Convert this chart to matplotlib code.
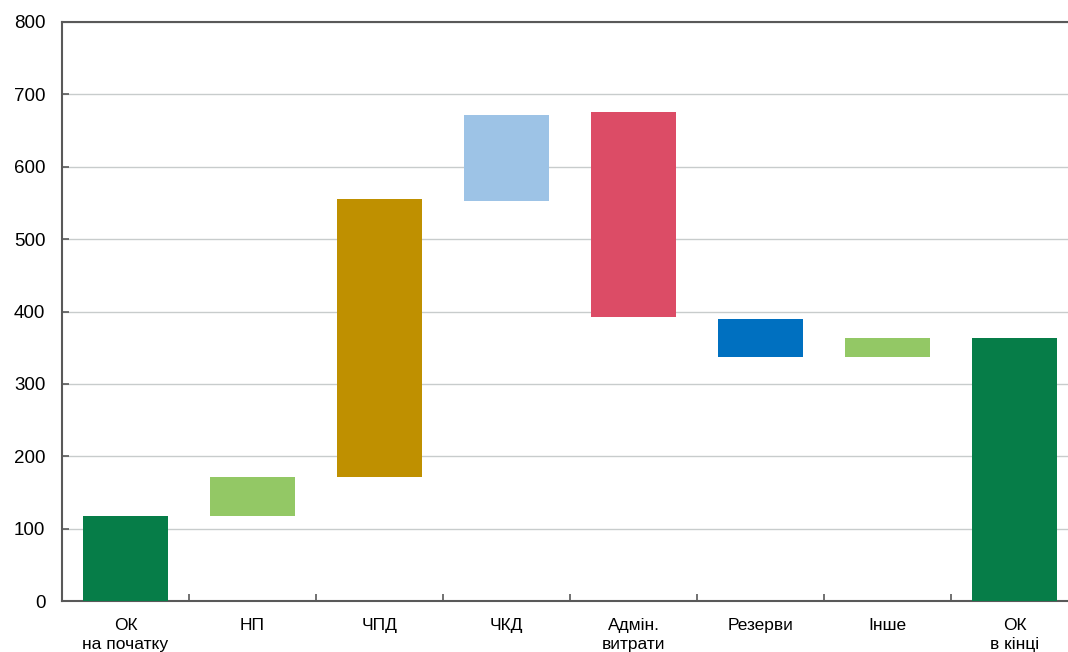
import matplotlib
matplotlib.use("Agg")
import matplotlib.pyplot as plt
from matplotlib.ticker import FixedLocator

categories = ["ОК\nна початку", "НП", "ЧПД", "ЧКД", "Адмін.\nвитрати", "Резерви", "Інше", "ОК\nв кінці"]
bottoms = [0, 118, 172, 553, 392, 337, 337, 0]
tops = [118, 172, 556, 672, 675, 390, 364, 364]
colors = ["#067D48", "#93C865", "#BF9000", "#9DC3E6", "#DC4C66", "#0070C0", "#93C865", "#067D48"]
yticks = [0, 100, 200, 300, 400, 500, 600, 700, 800]

plt.rcParams['font.family'] = ['Liberation Sans', 'DejaVu Sans']

fig = plt.figure(figsize=(10.68, 6.52), dpi=100)
ax = fig.add_axes([62/1068, 1 - 601/652, 1016/1068, 579/652])

x = list(range(len(categories)))
heights = [t - b for t, b in zip(tops, bottoms)]
ax.bar(x, heights, bottom=bottoms, width=0.67, color=colors, zorder=3)

ax.set_xlim(-0.5, len(categories) - 0.5)
ax.set_ylim(0, 800)
ax.set_yticks(yticks)
ax.yaxis.grid(True, color="#C8CCCC", linewidth=1, zorder=0)
ax.set_axisbelow(True)

ax.set_xticks(x)
ax.set_xticklabels(categories, fontsize=12.5, linespacing=1.4)
ax.tick_params(axis='x', which='major', length=0, pad=12)
ax.xaxis.set_minor_locator(FixedLocator([i + 0.5 for i in range(len(categories) - 1)]))
ax.tick_params(axis='x', which='minor', direction='in', length=5, width=1.2, color="#595959")
ax.tick_params(axis='y', direction='in', length=5, width=1.2, color="#595959", labelsize=13.5, pad=12)

for side in ['left', 'bottom', 'top']:
    ax.spines[side].set_color("#595959")
    ax.spines[side].set_linewidth(1.5)
ax.spines['right'].set_visible(False)

fig.savefig("out.png", dpi=100)
